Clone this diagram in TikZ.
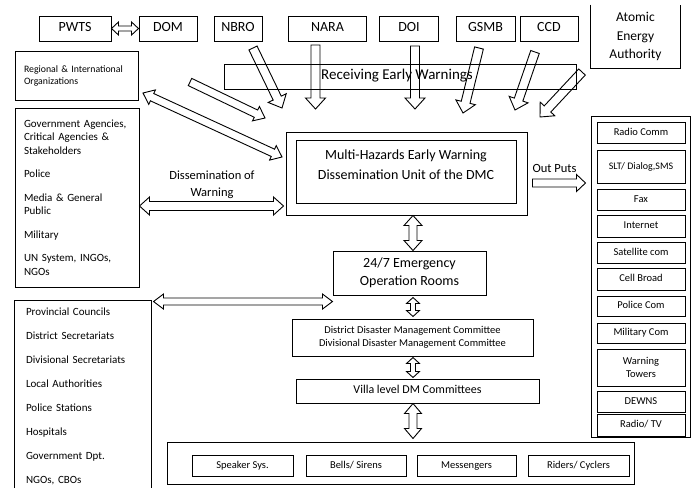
\documentclass[tikz,border=0pt]{standalone}
\usepackage{fontspec}
\setmainfont{Carlito}
\usetikzlibrary{calc}

% single-headed hollow block arrow: #1 start, #2 tip, #3 shaft half width, #4 head half width, #5 head length
\newcommand\BArrow[5]{%
 \draw[arr] let \p1=#1, \p2=#2, \n1={atan2(\y2-\y1,\x2-\x1)}, \n2={veclen(\x2-\x1,\y2-\y1)} in
 ($(\p1)+(\n1+90:#3)$) -- ($(\p1)+(\n1:\n2-#5)+(\n1+90:#3)$) -- ($(\p1)+(\n1:\n2-#5)+(\n1+90:#4)$) -- (\p2)
 -- ($(\p1)+(\n1:\n2-#5)+(\n1-90:#4)$) -- ($(\p1)+(\n1:\n2-#5)+(\n1-90:#3)$) -- ($(\p1)+(\n1-90:#3)$) -- cycle;}
% double-headed hollow block arrow
\newcommand\DArrow[5]{%
 \draw[arr] let \p1=#1, \p2=#2, \n1={atan2(\y2-\y1,\x2-\x1)}, \n2={veclen(\x2-\x1,\y2-\y1)} in
 (\p1) -- ($(\p1)+(\n1:#5)+(\n1+90:#4)$) -- ($(\p1)+(\n1:#5)+(\n1+90:#3)$) -- ($(\p1)+(\n1:\n2-#5)+(\n1+90:#3)$)
 -- ($(\p1)+(\n1:\n2-#5)+(\n1+90:#4)$) -- (\p2) -- ($(\p1)+(\n1:\n2-#5)+(\n1-90:#4)$) -- ($(\p1)+(\n1:\n2-#5)+(\n1-90:#3)$)
 -- ($(\p1)+(\n1:#5)+(\n1-90:#3)$) -- ($(\p1)+(\n1:#5)+(\n1-90:#4)$) -- cycle;}

\begin{document}
\begin{tikzpicture}[x=1pt,y=-1pt,line width=1pt,
  box/.style={draw,inner sep=0pt,align=center},
  arr/.style={draw,line width=0.9pt,line join=miter},
  ftop/.style={font=\fontsize{14}{17}\selectfont},
  fmid/.style={font=\fontsize{12.5}{17}\selectfont},
  one/.style={text height=0.7em,text depth=0.2em},
  item/.style={box,minimum width=88pt,font=\fontsize{10.5}{13}\selectfont},
  bitem/.style={box,one,minimum width=100pt,minimum height=21pt,font=\fontsize{10.5}{12}\selectfont}]
\fill[white] (0,0) rectangle (694,488);
\useasboundingbox (0,0) rectangle (694,488);

% top row
\node[box,ftop,one,minimum width=72pt,minimum height=25pt] (pwts) at (75,28.5) {PWTS};
\node[box,ftop,one,minimum width=58pt,minimum height=25pt] (dom) at (168,28.5) {DOM};
\node[box,ftop,one,minimum width=48pt,minimum height=25pt] (nbro) at (238,28.5) {NBRO};
\node[box,ftop,one,minimum width=78pt,minimum height=25pt] (nara) at (327.5,28.5) {NARA};
\node[box,ftop,one,minimum width=59pt,minimum height=25pt] (doi) at (409,28.5) {DOI};
\node[box,ftop,one,minimum width=59pt,minimum height=25pt] (gsmb) at (485.5,28.5) {GSMB};
\node[box,ftop,one,minimum width=58pt,minimum height=25pt] (ccd) at (549,28.5) {CCD};
\node[inner sep=0pt,align=center,minimum width=89pt,minimum height=63pt,
      font=\fontsize{13.5}{18.5}\selectfont] (aea) at (635.5,36.5) {Atomic\\Energy\\Authority};
\draw (aea.north west) -- (aea.south west) -- (aea.south east) -- (aea.north east);

% receiving
\node[box,one,font=\fontsize{15}{18}\selectfont,minimum width=352pt,minimum height=25pt] (recv) at (400,76.5) {\hspace*{-6pt}Receiving Early Warnings};

% left boxes
\node[box,align=left,text width=105pt,inner xsep=9pt,minimum height=49pt,
      font=\fontsize{9.8}{12}\selectfont] (reg) at (76.5,75.5) {Regional \& International\\Organizations};
\node[box,align=left,text width=106pt,inner xsep=9pt,minimum height=179pt,
      font=\fontsize{11}{13.5}\selectfont] (gov) at (77,197.5)
  {Government Agencies,\\Critical Agencies \&\\Stakeholders\\[10pt]Police\\[10pt]Media \& General\\Public\\[10pt]Military\\[10pt]UN System, INGOs,\\NGOs};
\node[align=left,text width=114pt,inner xsep=11pt,inner ysep=0pt,minimum height=191pt,
      font=\fontsize{11}{23.9}\selectfont] (prov) at (83,396.5)
  {Provincial Councils\\District Secretariats\\Divisional Secretariats\\Local Authorities\\Police Stations\\Hospitals\\Government Dpt.\\NGOs, CBOs};
\draw (prov.north west |- 0,488) -- (prov.north west) -- (prov.north east) -- (prov.north east |- 0,488);

% DMC
\node[box,minimum width=241pt,minimum height=83pt] (dmco) at (406.5,173.5) {};
\node[box,minimum width=220pt,minimum height=63pt] (dmci) at (406,171.5) {};
\node[align=center,font=\fontsize{14}{20}\selectfont] (dmct) at (406,165) {Multi-Hazards Early Warning\\Dissemination Unit of the DMC};

\node[align=center,fmid] (diss) at (212,185) {Dissemination of\\Warning};
\node[fmid,inner sep=0pt] (outl) at (554.5,168) {Out Puts};

% outputs panel
\node[box,minimum width=99pt,minimum height=321pt] (outp) at (640.5,276.5) {};
\node[item,one,minimum height=21pt] (o1) at (641,132.5) {Radio Comm};
\node[item,one,minimum height=33pt,font=\fontsize{10}{12}\selectfont] (o2) at (641,166.5) {SLT/ Dialog,SMS};
\node[item,one,minimum height=21pt] (o3) at (641,199.5) {Fax};
\node[item,one,minimum height=22pt] (o4) at (641,226) {Internet};
\node[item,one,minimum height=21pt] (o5) at (641,252.5) {Satellite com};
\node[item,one,minimum height=22pt] (o6) at (641,279) {Cell Broad};
\node[item,one,minimum height=20pt] (o7) at (641,306) {Police Com};
\node[item,one,minimum height=20pt] (o8) at (641,333) {Military Com};
\node[item,minimum height=37pt] (o9) at (641,367.5) {Warning\\Towers};
\node[item,one,minimum height=21pt] (o10) at (641,401.5) {DEWNS};
\node[item,one,minimum height=22pt] (o11) at (641,425) {Radio/ TV};

% centre chain
\node[box,font=\fontsize{14}{18}\selectfont,minimum width=153pt,minimum height=44pt] (ops) at (409.5,273) {24/7 Emergency\\Operation Rooms};
\node[box,font=\fontsize{10.5}{13}\selectfont,minimum width=241pt,minimum height=37pt] (ddmc) at (412.5,337.5) {District Disaster Management Committee\\Divisional Disaster Management Committee};
\node[box,one,font=\fontsize{12}{14}\selectfont,minimum width=243pt,minimum height=24pt] (villa) at (417.5,391) {Villa level DM Committees};
\node[box,minimum width=467pt,minimum height=42pt] (bot) at (400.5,463) {};
\node[bitem,minimum width=101pt] (b1) at (242.5,465.5) {Speaker Sys.};
\node[bitem] (b2) at (356,465.5) {Bells/ Sirens};
\node[bitem,minimum width=99pt] (b3) at (466.5,465.5) {Messengers};
\node[bitem,minimum width=101pt] (b4) at (578.5,465.5) {Riders/ Cyclers};

% free arrow ends
\coordinate (nbroA) at (253,48);  \coordinate (nbroB) at (282,108);
\coordinate (naraA) at (315.5,45); \coordinate (naraB) at (315.5,109);
\coordinate (doiA) at (415,46);   \coordinate (doiB) at (415,109);
\coordinate (gsmbA) at (479,48);  \coordinate (gsmbB) at (463,113);
\coordinate (ccdA) at (535,52);   \coordinate (ccdB) at (515,110);
\coordinate (aeaA) at (582,72);   \coordinate (aeaB) at (540,117);
\coordinate (regA) at (190,82);   \coordinate (regB) at (265,118);
\coordinate (regC) at (143,93);   \coordinate (regD) at (282,157);

% arrows
\DArrow{(pwts.east)}{(dom.west)}{2.5pt}{6.5pt}{7pt}
\BArrow{(nbroA)}{(nbroB)}{4.5pt}{10pt}{11pt}
\BArrow{(naraA)}{(naraB)}{4.5pt}{10pt}{11pt}
\BArrow{(doiA)}{(doiB)}{4.5pt}{10pt}{11pt}
\BArrow{(gsmbA)}{(gsmbB)}{4.5pt}{10pt}{11pt}
\BArrow{(ccdA)}{(ccdB)}{4.5pt}{10pt}{11pt}
\BArrow{(aeaA)}{(aeaB)}{4.5pt}{10pt}{11pt}
\BArrow{(regA)}{(regB)}{4pt}{8pt}{10pt}
\DArrow{(regC)}{(regD)}{4pt}{8pt}{10pt}
\DArrow{($(gov.east)+(0,8.5)$)}{($(dmco.west)+(-2,32.5)$)}{4.5pt}{9pt}{10pt}
\BArrow{($(dmco.east)+(5,9.5)$)}{($(outp.west)+(-5,-93.5)$)}{4pt}{8.5pt}{9pt}
\DArrow{($(dmco.south)+(6.5,0)$)}{($(ops.north)+(3.5,0)$)}{4pt}{9pt}{10pt}
\DArrow{($(ops.south)+(3.5,2)$)}{($(ddmc.north)+(0.5,-2)$)}{2.5pt}{6.5pt}{6pt}
\DArrow{($(ddmc.south)+(0.5,1)$)}{($(villa.north)+(-4.5,-1)$)}{2.5pt}{6.5pt}{6pt}
\DArrow{($(villa.south)+(-4.5,0)$)}{($(bot.north)+(12.5,-3)$)}{4pt}{8.5pt}{10pt}
\DArrow{($(prov.north east)+(2,1)$)}{($(ops.south west)+(0,6)$)}{3.5pt}{7.5pt}{10pt}
\end{tikzpicture}
\end{document}
